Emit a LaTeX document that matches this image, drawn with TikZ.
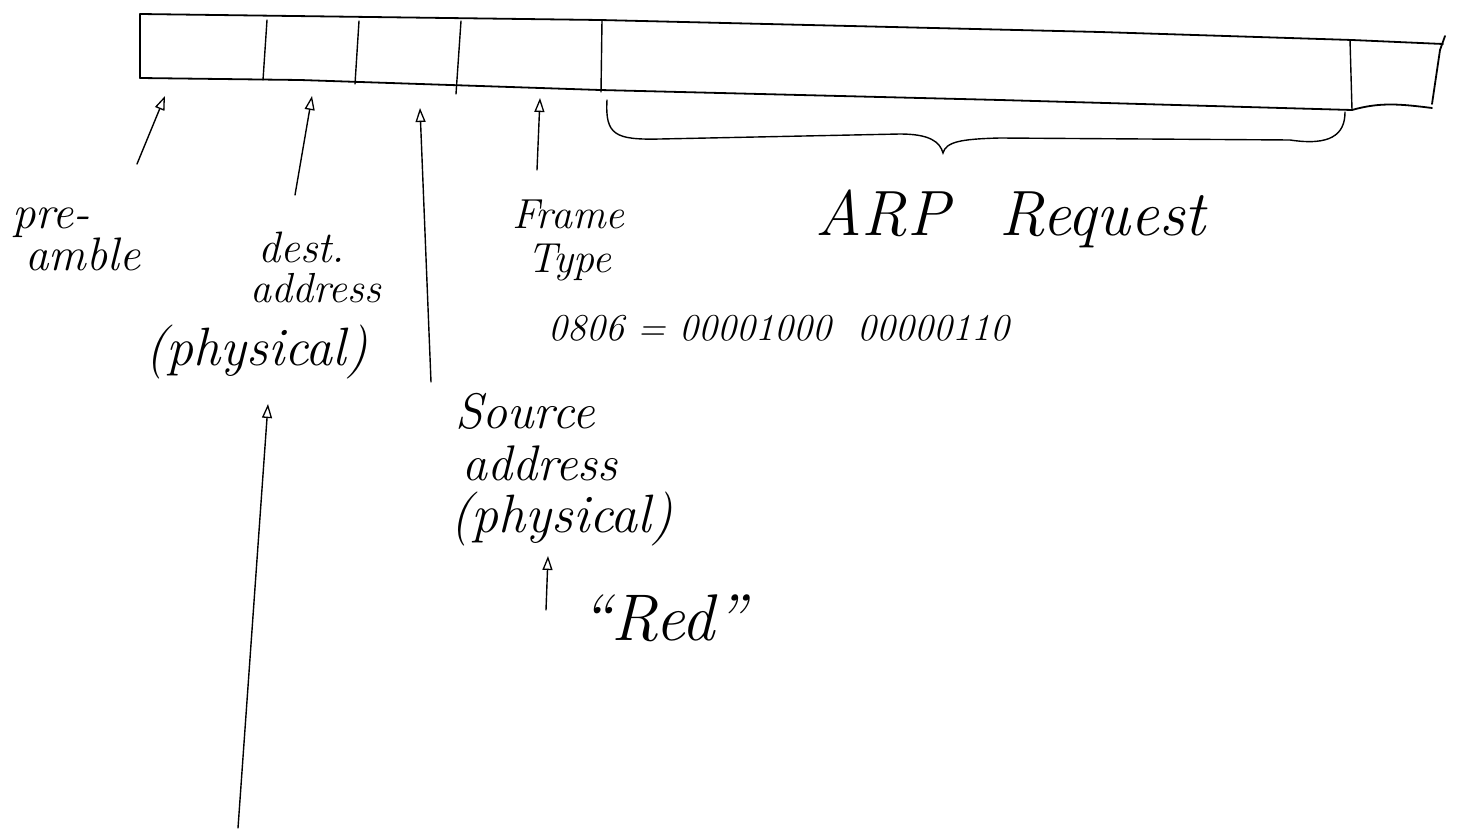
\documentclass[tikz,border=0pt]{standalone}
\usetikzlibrary{arrows.meta}
\begin{document}
\begin{tikzpicture}[x=1pt,y=-1pt,
  pen/.style={line width=1.8pt,line cap=round,line join=round},
  thin pen/.style={line width=1.4pt,line cap=round},
  ptr/.style={thin pen,-{Triangle[open,length=14pt,width=10pt,line width=1.3pt]}},
  hand/.style={font=\itshape\fontsize{#1}{#1}\selectfont,inner sep=0pt,anchor=base west},
]
\useasboundingbox (0,0) rectangle (1459,832);
% frame bar
\coordinate (tl) at (140,14);
\coordinate (bl) at (140,78);
\draw[pen] (bl) -- (tl) -- (600,20) -- (1100,32) -- (1352,40) -- (1443,44);
\draw[pen] (bl) -- (300,80) -- (600,90) -- (1000,100) -- (1352,110);
\draw[pen] (1352,110) .. controls (1380,102) and (1400,104) .. (1432,108);
\draw[pen] (1445,36) -- (1440,50) -- (1432,104);
% dividers
\draw[thin pen] (267,20) -- (263,80);
\draw[thin pen] (359,21) -- (355,84);
\draw[thin pen] (461,21) -- (456,94);
\draw[thin pen] (602,20) -- (601,92);
\draw[thin pen] (1350,40) -- (1352,110);
% brace
\draw[thin pen] (607,100) .. controls (605,135) and (615,140) .. (660,139) -- (900,134)
  .. controls (930,134) and (940,142) .. (943,153)
  .. controls (946,142) and (960,139) .. (1000,138) -- (1290,140)
  .. controls (1330,146) and (1345,135) .. (1345,112);
% labels
\node[hand=47] (pre1) at (12,228) {pre-};
\node[hand=47] (pre2) at (25,270) {amble};
\node[hand=44] (dest1) at (258,262) {dest.};
\node[hand=42] (dest2) at (250,302) {address};
\node[hand=54] (destphys) at (145,365) {(physical)};
\node[hand=42] (frame) at (512,228) {Frame};
\node[hand=42] (type) at (527,272) {Type};
\node[hand=38] (code) at (548,340) {0806 = 00001000\ \ 00000110};
\node[hand=64] (arp) at (815,235) {ARP\hspace*{50pt}Request};
\node[hand=50] (src1) at (455,428) {Source};
\node[hand=50] (src2) at (462,480) {address};
\node[hand=54] (src3) at (450,532) {(physical)};
\node[hand=66] (red) at (580,640) {``Red''};
% arrow ends
\coordinate (preT) at (137,164);
\coordinate (preH) at (165,96);
\coordinate (destT) at (295,195);
\coordinate (destH) at (312,96);
\coordinate (srcT) at (431,382);
\coordinate (srcH) at (420,108);
\coordinate (typeT) at (537,170);
\coordinate (typeH) at (540,98);
\coordinate (longT) at (238,828);
\coordinate (longH) at (268,404);
\coordinate (redT) at (546,610);
\coordinate (redH) at (548,556);
\draw[ptr] (preT) -- (preH);
\draw[ptr] (destT) -- (destH);
\draw[ptr] (srcT) -- (srcH);
\draw[ptr] (typeT) -- (typeH);
\draw[ptr] (longT) -- (longH);
\draw[ptr] (redT) -- (redH);
\end{tikzpicture}
\end{document}
